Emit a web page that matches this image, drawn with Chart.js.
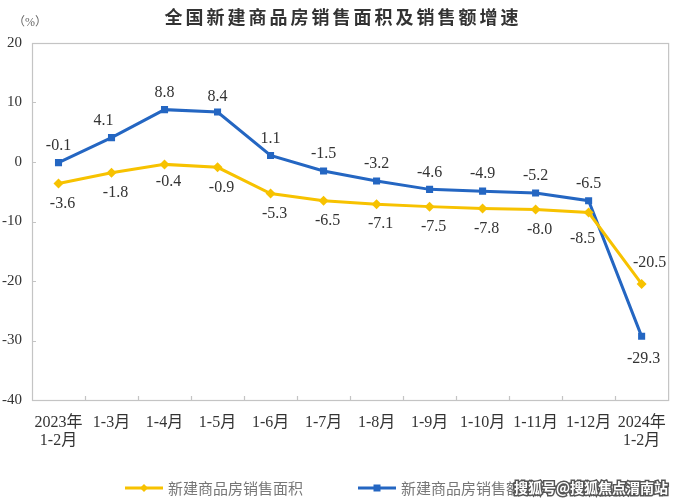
<!DOCTYPE html>
<html>
<head>
<meta charset="utf-8">
<script src="https://cdn.jsdelivr.net/npm/chart.js@4/dist/chart.umd.min.js"></script>
<style>
	body { margin: 0; background: #fff; }
	canvas { display: block; }
</style>
</head>
<body>
<canvas id="c" width="680" height="500"></canvas>
<script>
var categories = [['2023年', '1-2月'], '1-3月', '1-4月', '1-5月', '1-6月', '1-7月', '1-8月', '1-9月', '1-10月', '1-11月', '1-12月', ['2024年', '1-2月']];
var areaGrowth = [-3.6, -1.8, -0.4, -0.9, -5.3, -6.5, -7.1, -7.5, -7.8, -8.0, -8.5, -20.5];
var salesGrowth = [-0.1, 4.1, 8.8, 8.4, 1.1, -1.5, -3.2, -4.6, -4.9, -5.2, -6.5, -29.3];
var yTicks = [20, 10, 0, -10, -20, -30, -40];

var title = '全国新建商品房销售面积及销售额增速';
var areaName = '新建商品房销售面积';
var salesName = '新建商品房销售额';
var watermark = '搜狐号@搜狐焦点渭南站';

var YELLOW = '#f7c200';
var BLUE = '#2466c2';
var SERIF = '"Liberation Serif", "Noto Sans CJK SC", serif';
var SANS = '"Noto Sans CJK SC", sans-serif';

// label offsets per point: [dx, dy]
var areaOffsets = areaGrowth.map(function() { return [4, 20]; });
areaOffsets[2] = [4, 17];
areaOffsets[10] = [-6, 26];
areaOffsets[11] = [8, -21];
var salesOffsets = salesGrowth.map(function() { return [0, -17]; });
salesOffsets[1] = [-8, -17];
salesOffsets[3] = [0, -15];
salesOffsets[11] = [2, 22];

var decorPlugin = {
	id: 'decor',
	beforeDatasetsDraw: function(chart) {
		var ctx = chart.ctx, a = chart.chartArea;
		var x = chart.scales.x, y = chart.scales.y;
		ctx.save();
		ctx.strokeStyle = '#c4c4c4';
		ctx.lineWidth = 1.2;
		ctx.strokeRect(a.left + 0.5, a.top + 0.5, a.right - a.left, a.bottom - a.top);
		ctx.beginPath();
		// inner ticks on the bottom axis, at category borders
		for (var i = 1; i < categories.length; i++) {
			var px = Math.round((x.getPixelForTick(i) + x.getPixelForTick(i - 1)) / 2) + 0.5;
			ctx.moveTo(px, a.bottom);
			ctx.lineTo(px, a.bottom - 4);
		}
		// inner ticks on the left axis
		yTicks.forEach(function(v) {
			var py = Math.round(y.getPixelForValue(v)) + 0.5;
			ctx.moveTo(a.left, py);
			ctx.lineTo(a.left + 4, py);
		});
		ctx.stroke();
		ctx.restore();
	},
	afterDatasetsDraw: function(chart) {
		var ctx = chart.ctx;
		ctx.save();
		ctx.font = '16px ' + SERIF;
		ctx.fillStyle = '#333';
		ctx.textAlign = 'center';
		ctx.textBaseline = 'middle';
		[areaOffsets, salesOffsets].forEach(function(offs, d) {
			var meta = chart.getDatasetMeta(d);
			var vals = chart.data.datasets[d].data;
			meta.data.forEach(function(pt, i) {
				ctx.fillText(vals[i].toFixed(1), pt.x + offs[i][0], pt.y + offs[i][1]);
			});
		});
		ctx.restore();
	},
	afterDraw: function(chart) {
		var ctx = chart.ctx;
		ctx.save();
		// title
		ctx.fillStyle = '#333';
		ctx.font = 'bold 18px ' + SANS;
		ctx.letterSpacing = '3px';
		ctx.textAlign = 'center';
		ctx.textBaseline = 'middle';
		ctx.fillText(title, 343, 17);
		ctx.letterSpacing = '0px';
		// unit
		ctx.fillStyle = '#666';
		ctx.font = '12px ' + SERIF;
		ctx.fillText('（%）', 30, 23);
		// legend
		ctx.textAlign = 'left';
		ctx.font = '15px ' + SANS;
		[[areaName, YELLOW, 125, 'diamond'], [salesName, BLUE, 358, 'square']].forEach(function(it) {
			var ly = 488;
			ctx.strokeStyle = it[1];
			ctx.fillStyle = it[1];
			ctx.lineWidth = 3;
			ctx.beginPath();
			ctx.moveTo(it[2], ly);
			ctx.lineTo(it[2] + 38, ly);
			ctx.stroke();
			var cx = it[2] + 19;
			ctx.beginPath();
			if (it[3] == 'diamond') {
				ctx.moveTo(cx, ly - 4); ctx.lineTo(cx + 4, ly); ctx.lineTo(cx, ly + 4); ctx.lineTo(cx - 4, ly);
			} else {
				ctx.rect(cx - 3.5, ly - 3.5, 7, 7);
			}
			ctx.fill();
			ctx.fillStyle = '#777';
			ctx.fillText(it[0], it[2] + 43, ly);
		});
		// watermark
		ctx.font = 'bold 14px ' + SANS;
		ctx.textAlign = 'right';
		ctx.lineWidth = 3;
		ctx.strokeStyle = '#555';
		ctx.strokeText(watermark, 668, 488);
		ctx.fillStyle = '#fff';
		ctx.fillText(watermark, 668, 488);
		ctx.restore();
	}
};

new Chart(document.getElementById('c'), {
	type: 'line',
	data: {
		labels: categories,
		datasets: [{
			label: areaName,
			data: areaGrowth,
			borderColor: YELLOW,
			backgroundColor: YELLOW,
			borderWidth: 3,
			pointStyle: 'rectRot',
			pointRadius: 5,
			pointBorderWidth: 0,
			tension: 0
		}, {
			label: salesName,
			data: salesGrowth,
			borderColor: BLUE,
			backgroundColor: BLUE,
			borderWidth: 3,
			pointStyle: 'rect',
			pointRadius: 5,
			pointBorderWidth: 0,
			tension: 0
		}]
	},
	options: {
		responsive: false,
		animation: false,
		events: [],
		layout: { padding: { top: 43, right: 9, left: 0, bottom: 0 } },
		plugins: { legend: { display: false }, tooltip: { enabled: false } },
		scales: {
			x: {
				offset: true,
				grid: { display: false, drawTicks: false },
				border: { display: false },
				ticks: { color: '#333', padding: 14, maxRotation: 0, autoSkip: false, font: { family: SERIF, size: 16, lineHeight: 1.1 } },
				afterFit: function(s) { s.height = 100; }
			},
			y: {
				min: -40,
				max: 20,
				grid: { display: false, drawTicks: false },
				border: { display: false },
				ticks: { stepSize: 10, color: '#333', padding: 10, font: { family: SERIF, size: 15 } },
				afterFit: function(s) { s.width = 32; }
			}
		}
	},
	plugins: [decorPlugin]
});
</script>
</body>
</html>
